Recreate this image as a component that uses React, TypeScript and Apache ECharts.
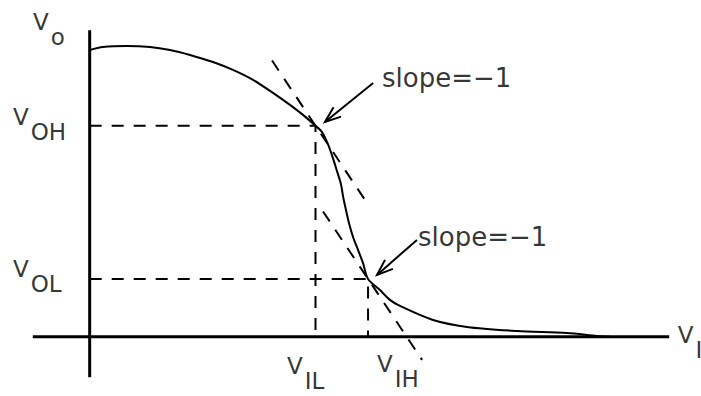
import { useEffect, useRef } from "react";
import * as echarts from "echarts";

// Plot window in data units (Vin across, Vout up); the chart fills the whole canvas
const xRange: [number, number] = [-0.93, 6.34];
const yRange: [number, number] = [-0.41, 2.33];

// Critical points of the inverter transfer characteristic
const vOH = 1.46;
const vOL = 0.4;
const vIL = 2.342;
const vIH = 2.887;

// Vout versus Vin
const transferCurve: [number, number][] = [
  [0, 1.984],
  [0.138, 2.005],
  [0.387, 2.012],
  [0.625, 2.005],
  [0.833, 1.984],
  [1.04, 1.95],
  [1.279, 1.901],
  [1.486, 1.846],
  [1.694, 1.777],
  [1.901, 1.687],
  [2.077, 1.604],
  [2.212, 1.535],
  [vIL, vOH],
  [2.409, 1.417],
  [2.471, 1.333],
  [2.523, 1.236],
  [2.565, 1.146],
  [2.606, 1.056],
  [2.629, 0.967],
  [2.658, 0.877],
  [2.689, 0.787],
  [2.731, 0.691],
  [2.783, 0.601],
  [2.834, 0.511],
  [vIH, vOL],
  [3.011, 0.323],
  [3.114, 0.255],
  [3.218, 0.213],
  [3.561, 0.116],
  [3.913, 0.068],
  [4.431, 0.04],
  [4.95, 0.026],
  [5.261, 0.006],
  [5.396, 0],
];

// Drop lines from the two unity-gain points
const highGuide: [number, number][] = [[0, vOH], [vIL, vOH], [vIL, 0]];
const lowGuide: [number, number][] = [[0, vOL], [vIH, vOL], [vIH, 0]];

// Tangents of slope -1 through the unity-gain points
const upperTangent: [number, number][] = [[1.891, 1.911], [2.887, 0.915]];
const lowerTangent: [number, number][] = [[2.42, 0.867], [3.447, -0.16]];

// Coordinate axes crossing at the origin
const xAxisLine: [number, number][] = [[-0.59, 0], [6.01, 0]];
const yAxisLine: [number, number][] = [[0, 2.12], [0, -0.28]];

// Callout arrows: [fromX, fromY, toX, toY]
const arrows: number[][] = [
  [2.94, 1.756, 2.44, 1.486],
  [3.394, 0.67, 2.98, 0.428],
];

// Text annotations: [x, y, text]
const slopeLabels: [number, number, string][] = [
  [3.032, 1.88, "slope=\u22121"],
  [3.405, 0.78, "slope=\u22121"],
];

// Voltage names: [x, y, main letter, subscript]
const voltageLabels: [number, number, string, string][] = [
  [-0.588, 2.255, "V", "o"],
  [-0.795, 1.6, "V", "OH"],
  [-0.795, 0.55, "V", "OL"],
  [2.046, -0.125, "V", "IL"],
  [2.98, -0.106, "V", "IH"],
  [6.1, 0.095, "V", "I"],
];

const FONT = "DejaVu Sans";

export default function App() {
  const ref = useRef<HTMLDivElement>(null);

  useEffect(() => {
    document.body.style.margin = "0";
    const chart = echarts.init(ref.current!, null, { renderer: "svg" });

    const solid = (data: [number, number][], width: number, extra = {}) => ({
      type: "line",
      data,
      showSymbol: false,
      silent: true,
      lineStyle: { color: "#000", width, cap: "butt" },
      ...extra,
    });
    const dashed = (data: [number, number][]) => ({
      type: "line",
      data,
      showSymbol: false,
      silent: true,
      lineStyle: { color: "#000", width: 2, type: [12, 10] },
    });

    const textBase = {
      color: "#000",
      fontFamily: FONT,
      textBorderWidth: 0,
      textShadowBlur: 0,
    };

    chart.setOption({
      animation: false,
      backgroundColor: "#fff",
      grid: { left: 0, top: 0, width: 701, height: 396 },
      xAxis: { type: "value", min: xRange[0], max: xRange[1], show: false },
      yAxis: { type: "value", min: yRange[0], max: yRange[1], show: false },
      series: [
        solid(xAxisLine, 3),
        solid(yAxisLine, 3),
        dashed(highGuide),
        dashed(lowGuide),
        dashed(upperTangent),
        dashed(lowerTangent),
        solid(transferCurve, 2, { smooth: 0.3 }),
        {
          type: "custom",
          silent: true,
          data: arrows,
          encode: { x: [0, 2], y: [1, 3] },
          renderItem: (_p: any, api: any) => {
            const s = api.coord([api.value(0), api.value(1)]);
            const e = api.coord([api.value(2), api.value(3)]);
            const ang = Math.atan2(s[1] - e[1], s[0] - e[0]);
            const len = 17;
            const spread = 0.36;
            const b1 = [e[0] + len * Math.cos(ang + spread), e[1] + len * Math.sin(ang + spread)];
            const b2 = [e[0] + len * Math.cos(ang - spread), e[1] + len * Math.sin(ang - spread)];
            const style = { stroke: "#000", lineWidth: 2, fill: null };
            return {
              type: "group",
              children: [
                { type: "line", shape: { x1: s[0], y1: s[1], x2: e[0], y2: e[1] }, style },
                { type: "polyline", shape: { points: [b1, e, b2] }, style },
              ],
            };
          },
        },
        {
          type: "scatter",
          silent: true,
          symbolSize: 0,
          clip: false,
          data: slopeLabels.map(([x, y, t]) => ({ value: [x, y], name: t })),
          label: {
            show: true,
            position: "inside",
            align: "left",
            verticalAlign: "top",
            formatter: (p: any) => p.name,
            ...textBase,
            fontSize: 26,
          },
        },
        {
          type: "scatter",
          silent: true,
          symbolSize: 0,
          clip: false,
          data: voltageLabels.map(([x, y, m, s]) => ({ value: [x, y], name: m + "|" + s })),
          label: {
            show: true,
            position: "inside",
            align: "left",
            verticalAlign: "top",
            ...textBase,
            formatter: (p: any) => {
              const [m, s] = p.name.split("|");
              return `{m|${m}}{s|${s}}`;
            },
            rich: {
              m: { ...textBase, fontSize: 23, padding: [0, 2, 15, 0] },
              s: { ...textBase, fontSize: 23, padding: [15, 0, 0, 0] },
            },
          },
        },
      ],
    });

    return () => chart.dispose();
  }, []);

  return (
    <div
      ref={ref}
      style={{ position: "fixed", left: 0, top: 0, width: 701, height: 396 }}
    />
  );
}
